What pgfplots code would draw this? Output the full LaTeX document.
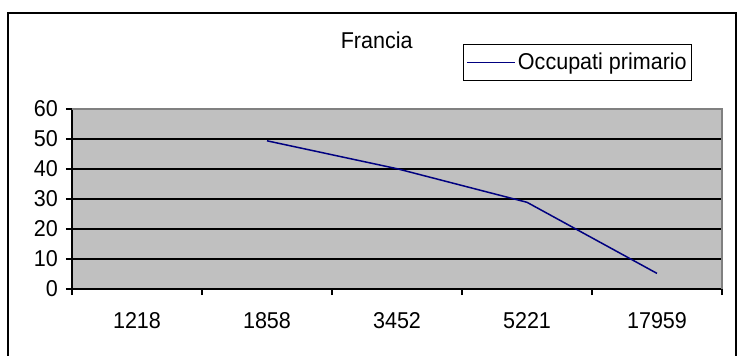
\documentclass[border=0pt]{standalone}
\usepackage{pgfplots}
\pgfplotsset{compat=1.18}
\usepackage{fontspec}
\setmainfont{Liberation Sans}[FakeStretch=0.94]
\definecolor{plotgray}{HTML}{C0C0C0}
\definecolor{bordergray}{HTML}{808080}
\definecolor{navyline}{HTML}{000080}
\begin{document}
\fontsize{23}{27}\selectfont
\begin{tikzpicture}[x=1bp,y=1bp]
\useasboundingbox (0,0) rectangle (737,355);
\draw[line width=2bp] (7.5,-10) -- (7.5,342.3) -- (735.5,342.3) -- (735.5,-10);
\node[inner sep=0pt] at (376.7,314.3) {Francia};
\begin{axis}[at={(72bp,66bp)}, anchor=south west, scale only axis,
  width=650bp, height=180bp,
  xmin=-0.5, xmax=4.5, ymin=0, ymax=60,
  axis background/.style={fill=plotgray},
  axis x line*=bottom, axis y line*=left,
  axis line style={-, black, line width=1.5bp},
  xtick={0,...,4}, xticklabels={1218,1858,3452,5221,17959},
  major x tick style={draw=none},
  minor xtick={-0.5,0.5,...,4.5},
  minor x tick style={black, line width=1.5bp},
  minor tick length=6bp,
  ytick={0,10,...,60},
  major y tick style={black, line width=1.5bp},
  major tick length=6bp,
  tick align=outside,
  ymajorgrids, grid style={black, line width=1.5bp},
  /pgf/number format/assume math mode=true,
  tick label style={font=\fontsize{23}{27}\selectfont},
  xticklabel style={anchor=north, inner sep=0pt, yshift=-17bp},
  yticklabel style={anchor=east, inner sep=0pt, xshift=-8bp},
  legend style={at={(axis description cs:0.6015,1.361)}, anchor=north west,
    draw=black, line width=1bp, fill=white, inner xsep=3bp, inner ysep=6bp,
    font=\fontsize{23}{27}\selectfont},
  legend image code/.code={\draw[navyline, line width=1.5bp] (0bp,0bp) -- (48bp,0bp);},
  legend cell align=left,
  clip=false,
]
\addplot[navyline, line width=1.5bp] coordinates {(1,49.4) (2,40.1) (3,28.9) (4,5.2)};
\addlegendentry{Occupati primario}
\draw[bordergray, line width=1.5bp] (rel axis cs:0,1) -- (rel axis cs:1,1) -- (rel axis cs:1,0);
\end{axis}
\end{tikzpicture}
\end{document}
